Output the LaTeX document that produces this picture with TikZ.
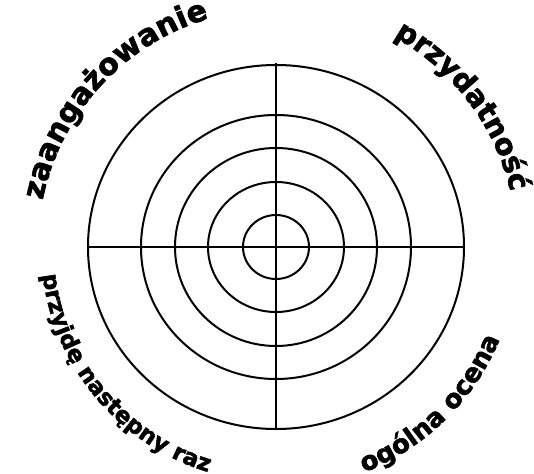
\documentclass[tikz,border=0pt]{standalone}
\usepackage{fontspec}
\usepackage{tikz}
\usetikzlibrary{decorations.text}
\newfontfamily\lblfont{DejaVu Sans}[BoldFeatures={FakeBold=2}]

\tikzset{
  arclabel/.style={decorate,decoration={text along path,text align=center}}
}

\begin{document}
\begin{tikzpicture}[x=1pt,y=1pt,line width=2pt]
  \useasboundingbox (-276,-226) rectangle (258,247);
  \coordinate (c) at (0,0);
  \foreach \rx/\ry in {188/182,135/132,101/99,68/65,33/32}
    \draw (c) ellipse [x radius=\rx, y radius=\ry];
  \draw (c) ++(-188,0) -- ++(376,0);
  \draw (c) ++(0,184) -- ++(0,-367);
  \path[arclabel,decoration={text={|\lblfont\bfseries\fontsize{30}{30}\selectfont|zaangażowanie}}]
    (c) ++(182:238pt) arc[start angle=182,end angle=93,radius=238pt];
  \path[arclabel,decoration={text={|\lblfont\bfseries\fontsize{29}{29}\selectfont|przydatność}}]
    (c) ++(80:241pt) arc[start angle=80,end angle=-6,radius=241pt];
  \path[arclabel,decoration={text={|\lblfont\bfseries\fontsize{23}{23}\selectfont|przyjdę następny raz}}]
    (c) ++(179:235pt) arc[start angle=179,end angle=261,radius=235pt];
  \path[arclabel,decoration={text={|\lblfont\bfseries\fontsize{26}{26}\selectfont|ogólna ocena}}]
    (c) ++(270:242pt) arc[start angle=270,end angle=359,radius=242pt];
\end{tikzpicture}
\end{document}
